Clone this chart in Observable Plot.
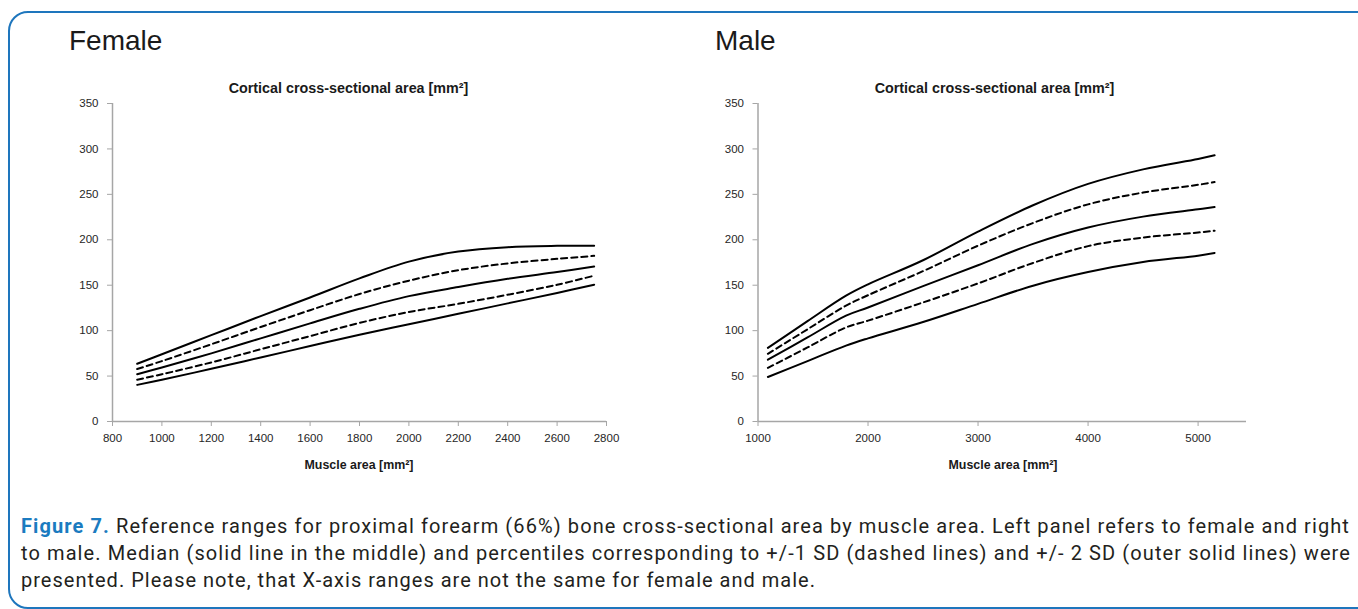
<!DOCTYPE html>
<html><head><meta charset="utf-8">
<script src="https://cdn.jsdelivr.net/npm/d3@7"></script>
<script src="https://cdn.jsdelivr.net/npm/@observablehq/plot@0.6"></script>
<style>
html,body{margin:0;padding:0;background:#fff;}
#page{position:relative;width:1358px;height:609px;overflow:hidden;background:#fff;}
#frame{position:absolute;left:8px;top:11px;width:1372px;height:598px;border:2px solid #1e76bd;border-radius:20px;box-sizing:border-box;}
.t{position:absolute;white-space:nowrap;line-height:1;}
#left,#right{position:absolute;top:0;}
#left{left:0;} #right{left:680px;}
</style></head><body>
<div id="page">
  <div id="frame"></div>
  <div id="left"></div>
  <div id="right"></div>
</div>
<script>
// ---------- data ----------
const yTicks = [0, 50, 100, 150, 200, 250, 300, 350];
const femaleTicks = [800, 1000, 1200, 1400, 1600, 1800, 2000, 2200, 2400, 2600, 2800];
const maleTicks = [1000, 2000, 3000, 4000, 5000];

const femaleX      = [900, 1000, 1200, 1400, 1600, 1800, 2000, 2200, 2400, 2600, 2750];
const femalePlus2  = [63.5, 74, 95, 116, 136.5, 157.5, 176, 187, 191.8, 193.3, 193.5];
const femalePlus1  = [57.7, 66.5, 85, 104, 122.5, 140.3, 155, 166.5, 174, 179, 182.3];
const femaleMedian = [52, 59.5, 75, 91.5, 108, 124, 138, 148, 157, 164.5, 170.5];
const femaleMinus1 = [46, 52, 65, 79.5, 94, 108.5, 120.5, 129.5, 139.5, 150.5, 160.5];
const femaleMinus2 = [40.3, 46, 58, 70.5, 83, 95.5, 107, 118.5, 130, 141.5, 150.5];

const maleX      = [1090, 1450, 1800, 2000, 2500, 3000, 3500, 4000, 4500, 5000, 5150];
const malePlus2  = [81, 110.5, 138.5, 151, 177.5, 209, 238, 261.5, 277.5, 289, 293];
const malePlus1  = [74.5, 101.5, 127.5, 139, 165.5, 193.5, 218.5, 239, 252, 260.5, 263.5];
const maleMedian = [68, 92.5, 116.5, 125.5, 149, 172, 195.5, 213.5, 225.5, 233.5, 236];
const maleMinus1 = [59, 81.5, 103.5, 111, 131, 152, 174.5, 193, 202.5, 208, 210];
const maleMinus2 = [49, 66.5, 83.5, 91.5, 109.5, 129.5, 149.5, 164.5, 175.5, 182.5, 185.5];

const seriesNames = ["+2 SD", "+1 SD", "Median", "-1 SD", "-2 SD"];
const seriesDashed = [false, true, false, true, false];

const panelTitles = ["Female", "Male"];
const chartTitle = "Cortical cross-sectional area [mm²]";
const xLabel = "Muscle area [mm²]";
const captionLead = "Figure 7.";
const captionLines = [
  " Reference ranges for proximal forearm (66%) bone cross-sectional area by muscle area. Left panel refers to female and right",
  "to male. Median (solid line in the middle) and percentiles corresponding to +/-1 SD (dashed lines) and +/- 2 SD (outer solid lines) were",
  "presented. Please note, that X-axis ranges are not the same for female and male."
];

// ---------- helpers ----------
const FONT = "'Liberation Sans', Arial, sans-serif";
const canvas = document.createElement("canvas");
const ctx = canvas.getContext("2d");
function measure(text, weight, size, family) {
  ctx.font = `${weight} ${size}px ${family}`;
  return ctx.measureText(text).width;
}
function place(html, opts) {
  const el = document.createElement("div");
  el.className = "t";
  el.innerHTML = html;
  el.style.fontFamily = opts.family || FONT;
  el.style.fontWeight = opts.weight || "normal";
  el.style.fontSize = opts.size + "px";
  el.style.color = opts.color || "#1a1a1a";
  if (opts.spacing) el.style.letterSpacing = opts.spacing + "px";
  const top = opts.baseline - 0.85 * opts.size;
  el.style.top = top + "px";
  if (opts.center != null) {
    el.style.left = opts.center + "px";
    el.style.transform = "translateX(-50%)";
  } else {
    el.style.left = opts.left + "px";
  }
  document.getElementById("page").appendChild(el);
  return el;
}
function fitSize(text, weight, family, target, base) {
  return base * target / measure(text, weight, base, family);
}

function panel(xs, series, xDomain, xTicks, width, mLeft, mRight) {
  const marks = [
    Plot.ruleY([0], {stroke: "#a6a6a6", strokeWidth: 1.5}),
    Plot.ruleX([xDomain[0]], {stroke: "#a6a6a6", strokeWidth: 1.5}),
    Plot.axisX({ticks: xTicks, tickSize: 5, tickPadding: 7, stroke: "#a6a6a6", fill: "#262626", label: null, tickFormat: d => `${d}`}),
    Plot.axisY({ticks: yTicks, tickSize: 5, tickPadding: 9, stroke: "#a6a6a6", fill: "#262626", label: null, tickFormat: d => `${d}`})
  ];
  series.forEach((vals, k) => {
    const rows = xs.map((x, i) => ({x, y: vals[i], s: seriesNames[k]}));
    marks.push(Plot.line(rows, {
      x: "x", y: "y", curve: "catmull-rom",
      stroke: "black", strokeWidth: 2,
      strokeDasharray: seriesDashed[k] ? "6,4" : null
    }));
  });
  return Plot.plot({
    width, height: 480,
    marginLeft: mLeft, marginRight: mRight, marginTop: 103, marginBottom: 59,
    x: {domain: xDomain}, y: {domain: [0, 350]},
    style: {background: "transparent", fontFamily: FONT, fontSize: "11.5px", color: "#262626"},
    marks
  });
}

document.getElementById("left").appendChild(panel(
  femaleX, [femalePlus2, femalePlus1, femaleMedian, femaleMinus1, femaleMinus2],
  [800, 2800], femaleTicks, 680, 112, 74));
document.getElementById("right").appendChild(panel(
  maleX, [malePlus2, malePlus1, maleMedian, maleMinus1, maleMinus2],
  [1000, 5440], maleTicks, 678, 77.5, 112));

// ---------- texts ----------
place(panelTitles[0], {left: 69, baseline: 51, size: 28});
place(panelTitles[1], {left: 715, baseline: 51, size: 28});
const ctSize = fitSize(chartTitle, "bold", FONT, 240, 12);
place(chartTitle, {center: 348.5, baseline: 93, size: ctSize, weight: "bold"});
place(chartTitle, {center: 994.5, baseline: 93, size: ctSize, weight: "bold"});
const xlSize = fitSize(xLabel, "bold", FONT, 109, 12);
place(xLabel, {center: 359, baseline: 470, size: xlSize, weight: "bold"});
place(xLabel, {center: 1003, baseline: 470, size: xlSize, weight: "bold"});

// caption
const CF = "Roboto, 'Noto Sans', sans-serif";
const cSize = 20;
const targets = [1329, 1330, 795];
const baselines = [533, 560, 587];
captionLines.forEach((line, i) => {
  const full = (i === 0 ? captionLead : "") + line;
  const wBold = i === 0 ? measure(captionLead, "bold", cSize, CF) : 0;
  const wReg = measure(line, "normal", cSize, CF);
  const spacing = (targets[i] - wBold - wReg) / full.length;
  const html = (i === 0 ? `<span style="color:#1b7bc0;font-weight:bold">${captionLead}</span>` : "") +
    line.replace(/&/g, "&amp;").replace(/</g, "&lt;");
  place(html, {left: 21, baseline: baselines[i], size: cSize, family: CF, color: "#231f20", spacing});
});
</script>
</body></html>
